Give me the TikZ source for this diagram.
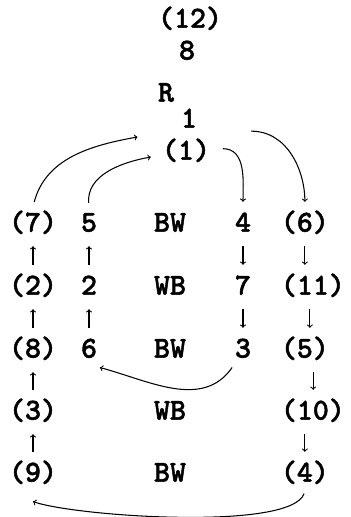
\documentclass[tikz,border=0pt]{standalone}
\usepackage{fontspec}
\newfontfamily\typew{lmmonolt10-bold}[Extension=.otf, FakeBold=1.6]
\begin{document}
\begin{tikzpicture}[>=to, x=0.3mm, y=-0.3mm, line width=0.9pt,
  every node/.style={inner sep=2pt, text height=19pt, text depth=6pt,
    font=\fontsize{26}{26}\typew},
  rcol/.style={anchor=west}, short/.style={->, shorten <=4pt, shorten >=4pt}]
\useasboundingbox (0,0) rectangle (350,517);
\node (top12) at (190,20) {(12)};
\node (eight) at (187,52) {8};
\node (R) at (166,94) {R};
\node (one) at (189,120) {1};
\node (p1) at (186,152) {(1)};

\node (p7) at (33,224) {(7)};
\node (p2) at (33,287) {(2)};
\node (p8) at (33,350) {(8)};
\node (p3) at (33,412) {(3)};
\node (p9) at (33,474) {(9)};

\node (d5) at (89,224) {5};
\node (d2) at (89,287) {2};
\node (d6) at (89,350) {6};

\node (c1) at (170,224) {BW};
\node (c2) at (170,287) {WB};
\node (c3) at (170,350) {BW};
\node (c4) at (170,412) {WB};
\node (c5) at (170,474) {BW};

\node (d4) at (243,224) {4};
\node (d7) at (243,287) {7};
\node (d3) at (243,350) {3};

\node[rcol] (p6) at (278,224) {(6)};
\node[rcol] (p11) at (278,287) {(11)};
\node[rcol] (p5) at (278,350) {(5)};
\node[rcol] (p10) at (278,412) {(10)};
\node[rcol] (p4) at (278,474) {(4)};

\draw[short] (p2) -- (p7);
\draw[short] (p8) -- (p2);
\draw[short] (p3) -- (p8);
\draw[short] (p9) -- (p3);
\draw[short] (d2) -- (d5);
\draw[short] (d6) -- (d2);
\draw[short] (d4) -- (d7);
\draw[short] (d7) -- (d3);
\draw[short] (p6.south) -- (p6.south |- p11.north);
\draw[short] ([xshift=1.5mm]p6.south |- p11.south) -- ([xshift=1.5mm]p6.south |- p5.north);
\draw[short] ([xshift=2.5mm]p6.south |- p5.south) -- ([xshift=2.5mm]p6.south |- p10.north);
\draw[short] (p4.north |- p10.south) -- (p4.north);

\draw[->, shorten <=4pt] (p7.north) to[out=75,in=190] ([xshift=-6.5mm,yshift=4.5mm]p1.west);
\draw[->, shorten <=3pt] (d5.north) to[out=95,in=190] ([xshift=-2.5mm,yshift=-1.5mm]p1.west);
\draw[->, shorten >=4pt] ([xshift=3mm,yshift=1mm]p1.east) to[out=0,in=90] (d4.north);
\draw[->, shorten >=4pt] ([xshift=11.5mm,yshift=1mm]p1.north east) to[out=0,in=90] (p6.north);
\draw[->] (d3.south west) to[out=235,in=-15] (d6.south east);
\draw[->, shorten <=2pt] (p4.south) to[out=250,in=-20,looseness=0.4] ([yshift=-3mm]p9.south);
\end{tikzpicture}
\end{document}
